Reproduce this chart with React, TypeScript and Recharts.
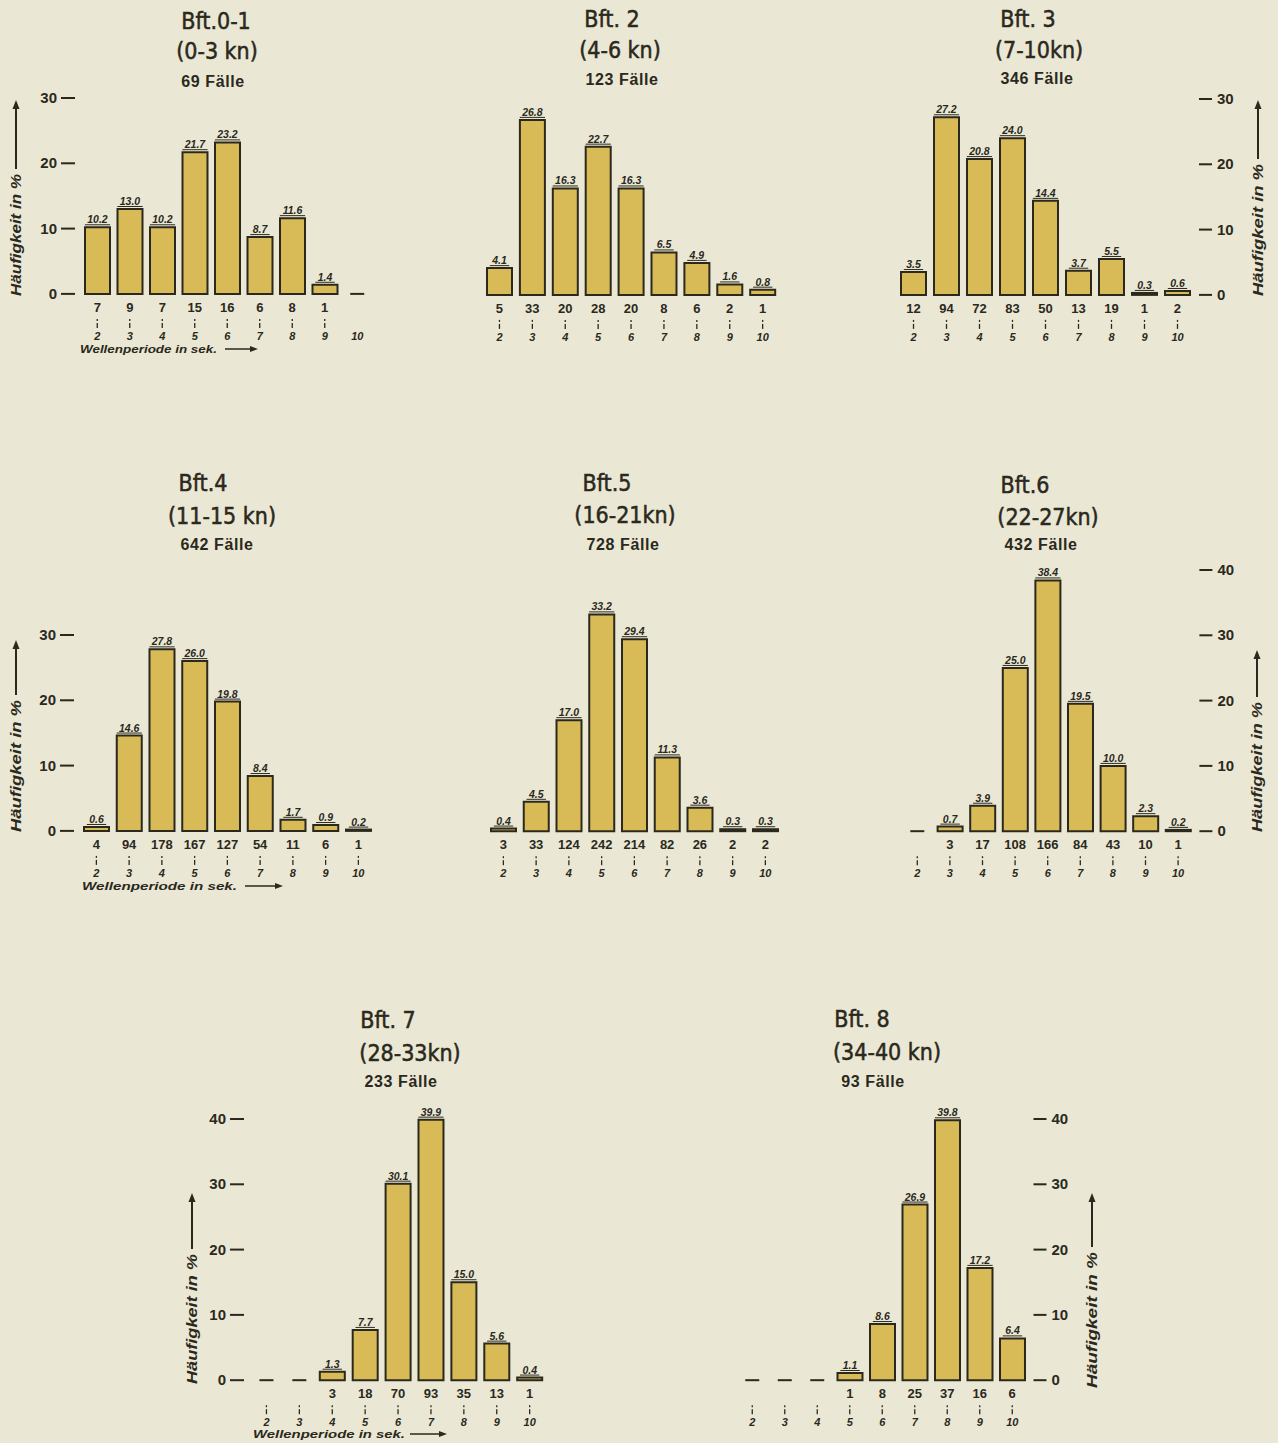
import React from 'react';
import { BarChart, Bar, XAxis, YAxis, LabelList } from 'recharts';

// ---------- data ----------
const periods = [2, 3, 4, 5, 6, 7, 8, 9, 10];

const pctBft01 = [10.2, 13.0, 10.2, 21.7, 23.2, 8.7, 11.6, 1.4, null];
const cntBft01 = [7, 9, 7, 15, 16, 6, 8, 1, null];

const pctBft2 = [4.1, 26.8, 16.3, 22.7, 16.3, 6.5, 4.9, 1.6, 0.8];
const cntBft2 = [5, 33, 20, 28, 20, 8, 6, 2, 1];

const pctBft3 = [3.5, 27.2, 20.8, 24.0, 14.4, 3.7, 5.5, 0.3, 0.6];
const cntBft3 = [12, 94, 72, 83, 50, 13, 19, 1, 2];

const pctBft4 = [0.6, 14.6, 27.8, 26.0, 19.8, 8.4, 1.7, 0.9, 0.2];
const cntBft4 = [4, 94, 178, 167, 127, 54, 11, 6, 1];

const pctBft5 = [0.4, 4.5, 17.0, 33.2, 29.4, 11.3, 3.6, 0.3, 0.3];
const cntBft5 = [3, 33, 124, 242, 214, 82, 26, 2, 2];

const pctBft6 = [null, 0.7, 3.9, 25.0, 38.4, 19.5, 10.0, 2.3, 0.2];
const cntBft6 = [null, 3, 17, 108, 166, 84, 43, 10, 1];

const pctBft7 = [null, null, 1.3, 7.7, 30.1, 39.9, 15.0, 5.6, 0.4];
const cntBft7 = [null, null, 3, 18, 70, 93, 35, 13, 1];

const pctBft8 = [null, null, null, 1.1, 8.6, 26.9, 39.8, 17.2, 6.4];
const cntBft8 = [null, null, null, 1, 8, 25, 37, 16, 6];

const ticks30 = [0, 10, 20, 30];
const ticks40 = [0, 10, 20, 30, 40];

const titlesBft01 = ['Bft.0-1', '(0-3 kn)', '69 Fälle'];
const titlesBft2 = ['Bft. 2', '(4-6 kn)', '123 Fälle'];
const titlesBft3 = ['Bft. 3', '(7-10kn)', '346 Fälle'];
const titlesBft4 = ['Bft.4', '(11-15 kn)', '642 Fälle'];
const titlesBft5 = ['Bft.5', '(16-21kn)', '728 Fälle'];
const titlesBft6 = ['Bft.6', '(22-27kn)', '432 Fälle'];
const titlesBft7 = ['Bft. 7', '(28-33kn)', '233 Fälle'];
const titlesBft8 = ['Bft. 8', '(34-40 kn)', '93 Fälle'];

const yLabel = 'Häufigkeit in %';
const xLabel = 'Wellenperiode in sek.';

// ---------- style ----------
const BG = '#eae8d4';
const FILL = '#d8bb57';
const INK = '#2b291d';
const NUM_FONT = '"Liberation Sans", Arial, sans-serif';
const TITLE_FONT = '"DejaVu Sans Condensed", "Liberation Sans Narrow", "DejaVu Sans", sans-serif';
const PPU = 6.53; // px per percent

type PanelCfg = {
  pct: (number | null)[];
  cnt: (number | null)[];
  titles: string[];
  tx: number[];
  ty: number[];
  cx2: number;
  step: number;
  base: number;
  yMax: number;
  ticks: number[];
  axis: 'left' | 'right' | 'none';
  noMarkMissing?: boolean;
  yl?: { x: number; yb: number; len: number; arrowTop: number };
  xl?: { x: number; y: number; len: number; a1: number; a2: number };
};

const panels: PanelCfg[] = [
  {
    pct: pctBft01, cnt: cntBft01, titles: titlesBft01,
    tx: [216, 217, 213], ty: [29, 59, 87],
    cx2: 97, step: 32.5, base: 294, yMax: 30, ticks: ticks30, axis: 'left', noMarkMissing: true,
    yl: { x: 16, yb: 296, len: 122, arrowTop: 100 },
    xl: { x: 80, y: 353, len: 137, a1: 225, a2: 258 },
  },
  {
    pct: pctBft2, cnt: cntBft2, titles: titlesBft2,
    tx: [612, 620, 622], ty: [27, 58, 85],
    cx2: 499, step: 32.9, base: 295, yMax: 30, ticks: ticks30, axis: 'none',
  },
  {
    pct: pctBft3, cnt: cntBft3, titles: titlesBft3,
    tx: [1028, 1039, 1037], ty: [27, 58, 84],
    cx2: 913, step: 33, base: 295, yMax: 30, ticks: ticks30, axis: 'right',
    yl: { x: 1258, yb: 296, len: 132, arrowTop: 100 },
  },
  {
    pct: pctBft4, cnt: cntBft4, titles: titlesBft4,
    tx: [203, 222, 217], ty: [491, 524, 550],
    cx2: 96, step: 32.75, base: 831, yMax: 30, ticks: ticks30, axis: 'left',
    yl: { x: 16, yb: 832, len: 132, arrowTop: 640 },
    xl: { x: 82, y: 890, len: 155, a1: 245, a2: 283 },
  },
  {
    pct: pctBft5, cnt: cntBft5, titles: titlesBft5,
    tx: [607, 625, 623], ty: [491, 523, 550],
    cx2: 503, step: 32.75, base: 831, yMax: 40, ticks: ticks40, axis: 'none',
  },
  {
    pct: pctBft6, cnt: cntBft6, titles: titlesBft6,
    tx: [1025, 1048, 1041], ty: [493, 525, 550],
    cx2: 917, step: 32.6, base: 831, yMax: 40, ticks: ticks40, axis: 'right',
    yl: { x: 1257, yb: 832, len: 130, arrowTop: 650 },
  },
  {
    pct: pctBft7, cnt: cntBft7, titles: titlesBft7,
    tx: [388, 410, 401], ty: [1028, 1061, 1087],
    cx2: 266, step: 32.9, base: 1380, yMax: 40, ticks: ticks40, axis: 'left',
    yl: { x: 192, yb: 1384, len: 130, arrowTop: 1193 },
    xl: { x: 253, y: 1438, len: 152, a1: 410, a2: 447 },
  },
  {
    pct: pctBft8, cnt: cntBft8, titles: titlesBft8,
    tx: [862, 887, 873], ty: [1027, 1060, 1087],
    cx2: 752, step: 32.5, base: 1380, yMax: 40, ticks: ticks40, axis: 'right',
    yl: { x: 1092, yb: 1388, len: 136, arrowTop: 1193 },
  },
];

// ---------- renderers ----------
const BarLabel = (props: any) => {
  const { x, y, width, value } = props;
  if (value === null || value === undefined) return null;
  const s = Number(value).toFixed(1);
  const cx = x + width / 2;
  const tw = s.length * 5.8;
  return (
    <g>
      <text x={cx} y={y - 4} textAnchor="middle" fontSize={10.5} fontStyle="italic" fontWeight="bold"
        fontFamily={NUM_FONT} fill={INK}>{s}</text>
      <line x1={cx - tw / 2 - 1} x2={cx + tw / 2 + 1} y1={y - 2.5} y2={y - 2.5} stroke={INK} strokeWidth={1} />
    </g>
  );
};

const makeXTick = (data: any[], noMarkMissing: boolean) => (props: any) => {
  const { x, y, payload, index } = props;
  const d = data[index];
  const hasVal = d && d.v !== null && d.v !== undefined;
  const showMark = hasVal || !noMarkMissing;
  return (
    <g>
      {!hasVal && (
        <line x1={x - 7} x2={x + 7} y1={y} y2={y} stroke={INK} strokeWidth={2} />
      )}
      {d && d.n !== null && d.n !== undefined && (
        <text x={x} y={y + 18} textAnchor="middle" fontSize={13} fontWeight="bold" fontFamily={NUM_FONT} fill={INK}>
          {d.n}
        </text>
      )}
      {showMark && <line x1={x} x2={x} y1={y + 25} y2={y + 27} stroke={INK} strokeWidth={1.3} />}
      {showMark && <line x1={x} x2={x} y1={y + 29} y2={y + 34} stroke={INK} strokeWidth={1.3} />}
      <text x={x} y={y + 46} textAnchor="middle" fontSize={11} fontStyle="italic" fontWeight="bold"
        fontFamily={NUM_FONT} fill={INK}>{payload.value}</text>
    </g>
  );
};

const makeYTick = (side: 'left' | 'right') => (props: any) => {
  const { x, y, payload } = props;
  if (side === 'left') {
    return (
      <g>
        <line x1={x - 20} x2={x - 6} y1={y} y2={y} stroke={INK} strokeWidth={2} />
        <text x={x - 24} y={y + 5} textAnchor="end" fontSize={15} fontWeight="bold" fontFamily={NUM_FONT} fill={INK}>
          {payload.value}
        </text>
      </g>
    );
  }
  return (
    <g>
      <line x1={x + 5} x2={x + 18} y1={y} y2={y} stroke={INK} strokeWidth={2} />
      <text x={x + 23} y={y + 5} textAnchor="start" fontSize={15} fontWeight="bold" fontFamily={NUM_FONT} fill={INK}>
        {payload.value}
      </text>
    </g>
  );
};

function Panel({ p }: { p: PanelCfg }) {
  const ph = p.yMax * PPU;
  const pw = 9 * p.step;
  const x0 = p.cx2 - p.step / 2;
  const top = p.base - ph;
  const mt = 30;
  const xh = 64;
  const side = 60;
  const W = side + pw + side;
  const H = mt + ph + xh;
  const data = periods.map((per, i) => ({ per, v: p.pct[i], n: p.cnt[i] }));
  return (
    <div style={{ position: 'absolute', left: x0 - side, top: top - mt }}>
      <BarChart
        width={W}
        height={H}
        data={data}
        barSize={25}
        margin={{ top: mt, bottom: 0, left: p.axis === 'left' ? 0 : side, right: p.axis === 'right' ? 0 : side }}
      >
        <XAxis
          dataKey="per"
          type="category"
          height={xh}
          tickSize={0}
          tickMargin={0}
          axisLine={false}
          tickLine={false}
          interval={0}
          tick={makeXTick(data, !!p.noMarkMissing)}
        />
        <YAxis
          orientation={p.axis === 'right' ? 'right' : 'left'}
          hide={p.axis === 'none'}
          width={side}
          domain={[0, p.yMax]}
          ticks={p.ticks}
          tickSize={0}
          tickMargin={0}
          axisLine={false}
          tickLine={false}
          interval={0}
          tick={makeYTick(p.axis === 'right' ? 'right' : 'left')}
        />
        <Bar dataKey="v" fill={FILL} stroke={INK} strokeWidth={2} isAnimationActive={false}>
          <LabelList dataKey="v" content={BarLabel} />
        </Bar>
      </BarChart>
    </div>
  );
}

function Overlay() {
  return (
    <svg width={1278} height={1443} style={{ position: 'absolute', left: 0, top: 0, pointerEvents: 'none' }}>
      {panels.map((p, i) => (
        <g key={i}>
          <text x={p.tx[0]} y={p.ty[0]} textAnchor="middle" fontSize={23} fontFamily={TITLE_FONT} fill={INK}
            stroke={INK} strokeWidth={0.5}>
            {p.titles[0]}
          </text>
          <text x={p.tx[1]} y={p.ty[1]} textAnchor="middle" fontSize={23} fontFamily={TITLE_FONT} fill={INK}
            stroke={INK} strokeWidth={0.5}>
            {p.titles[1]}
          </text>
          <text x={p.tx[2]} y={p.ty[2]} textAnchor="middle" fontSize={16} fontWeight="bold" letterSpacing={0.6}
            fontFamily={NUM_FONT} fill={INK}>
            {p.titles[2]}
          </text>
          {p.yl && (
            <g>
              <text
                transform={`translate(${p.yl.x + 5},${p.yl.yb}) rotate(-90)`}
                textAnchor="start"
                fontSize={15}
                fontStyle="italic"
                fontWeight="bold"
                fontFamily={NUM_FONT}
                fill={INK}
                textLength={p.yl.len}
                lengthAdjust="spacingAndGlyphs"
              >
                {yLabel}
              </text>
              <line x1={p.yl.x} x2={p.yl.x} y1={p.yl.yb - p.yl.len - 5} y2={p.yl.arrowTop + 6}
                stroke={INK} strokeWidth={2} />
              <path d={`M${p.yl.x - 3.5},${p.yl.arrowTop + 9} L${p.yl.x},${p.yl.arrowTop} L${p.yl.x + 3.5},${p.yl.arrowTop + 9} Z`} fill={INK} />
            </g>
          )}
          {p.xl && (
            <g>
              <text x={p.xl.x} y={p.xl.y} fontSize={11} fontStyle="italic" fontWeight="bold" fontFamily={NUM_FONT}
                fill={INK} textLength={p.xl.len} lengthAdjust="spacingAndGlyphs">
                {xLabel}
              </text>
              <line x1={p.xl.a1} x2={p.xl.a2 - 6} y1={p.xl.y - 4} y2={p.xl.y - 4} stroke={INK} strokeWidth={1.5} />
              <path d={`M${p.xl.a2 - 8},${p.xl.y - 7} L${p.xl.a2},${p.xl.y - 4} L${p.xl.a2 - 8},${p.xl.y - 1} Z`} fill={INK} />
            </g>
          )}
        </g>
      ))}
    </svg>
  );
}

export default function App() {
  return (
    <div style={{ position: 'absolute', left: 0, top: 0, width: 1278, height: 1443, background: BG, overflow: 'hidden' }}>
      {panels.map((p, i) => (
        <Panel key={i} p={p} />
      ))}
      <Overlay />
    </div>
  );
}
